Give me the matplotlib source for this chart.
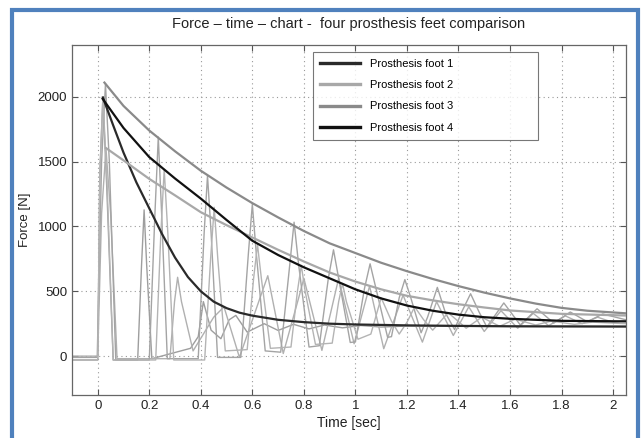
import matplotlib
matplotlib.use("Agg")
import matplotlib.pyplot as plt
from matplotlib.patches import Rectangle

plt.rcParams['font.family'] = ['Liberation Sans', 'DejaVu Sans']

# envelope curves
t_foot1 = [0.02, 0.06, 0.1, 0.15, 0.2, 0.25, 0.3, 0.35, 0.4, 0.45, 0.5, 0.55, 0.6, 0.7, 0.8, 0.9, 1.0,
           1.2, 1.4, 1.6, 1.8, 2.05]
f_foot1 = [1995, 1780, 1570, 1340, 1140, 940, 760, 610, 500, 420, 370, 335, 312, 280, 262, 250, 244,
           237, 233, 230, 229, 228]

t_foot2 = [0.032, 0.1, 0.2, 0.3, 0.4, 0.5, 0.6, 0.7, 0.8, 0.9, 1.0, 1.1, 1.2, 1.3, 1.4, 1.5, 1.6, 1.8, 2.05]
f_foot2 = [1605, 1510, 1367, 1240, 1110, 1010, 915, 820, 730, 645, 575, 515, 465, 430, 400, 375, 352, 326, 313]

t_foot3 = [0.026, 0.1, 0.2, 0.3, 0.4, 0.5, 0.6, 0.7, 0.8, 0.9, 1.0, 1.1, 1.2, 1.3, 1.4, 1.5, 1.6, 1.7, 1.8, 1.9, 2.05]
f_foot3 = [2110, 1930, 1740, 1580, 1430, 1300, 1180, 1070, 965, 870, 795, 720, 655, 595, 540, 490, 445, 405, 372, 350, 330]

t_foot4 = [0.019, 0.1, 0.2, 0.3, 0.4, 0.5, 0.6, 0.7, 0.8, 0.9, 1.0, 1.1, 1.2, 1.3, 1.4, 1.5, 1.6, 1.8, 2.05]
f_foot4 = [1985, 1760, 1535, 1370, 1215, 1050, 890, 780, 685, 600, 515, 445, 390, 350, 320, 300, 288, 272, 268]

t_raw1 = [-0.1, 0.0, 0.008, 0.02, 0.035, 0.06, 0.155, 0.17, 0.18, 0.19, 0.21, 0.36, 0.39, 0.41, 0.44,
          0.478, 0.51, 0.536, 0.58, 0.646, 0.70, 0.76, 0.82, 0.88, 0.95, 1.02, 1.1, 1.2, 1.4, 1.6, 1.8, 2.05]
f_raw1 = [-30, -30, 1400, 1990, 1300, -30, -30, 700, 1128, 700, -20, 60, 150, 420, 200,
          134, 280, 314, 185, 250, 198, 245, 210, 240, 218, 236, 224, 232, 230, 229, 229, 228]

t_raw2 = [-0.1, 0.0, 0.015, 0.032, 0.05, 0.075, 0.28, 0.298, 0.31, 0.325, 0.37, 0.45, 0.49, 0.55, 0.63,
          0.66, 0.72, 0.78, 0.80, 0.87, 0.935, 0.995, 1.055, 1.11, 1.185, 1.26, 1.315, 1.38, 1.44, 1.50,
          1.565, 1.63, 1.69, 1.75, 1.815, 1.88, 1.94, 2.0, 2.05]
f_raw2 = [0, 0, 1100, 1600, 1100, -20, -20, 420, 608, 420, 40, 300, 380, -10, 450,
          620, 20, 450, 600, 44, 600, 95, 540, 57, 470, 108, 420, 159, 380, 190,
          350, 215, 330, 235, 310, 250, 300, 260, 275]

t_raw3 = [-0.1, -0.002, 0.015, 0.03, 0.045, 0.07, 0.2, 0.222, 0.235, 0.248, 0.27, 0.39, 0.413, 0.426,
          0.44, 0.465, 0.555, 0.585, 0.60, 0.615, 0.65, 0.71, 0.745, 0.762, 0.78, 0.82, 0.86, 0.895,
          0.915, 0.935, 0.98, 1.0, 1.035, 1.057, 1.08, 1.125, 1.14, 1.17, 1.192, 1.215, 1.255, 1.28,
          1.318, 1.35, 1.385, 1.41, 1.447, 1.48, 1.51, 1.576, 1.64, 1.705, 1.77, 1.834, 1.90, 1.96, 2.05]
f_raw3 = [-10, -10, 1500, 2100, 1500, -30, -30, 1100, 1690, 1100, -20, -20, 950, 1392,
          950, -10, -10, 800, 1170, 800, 40, 30, 700, 1033, 700, 70, 80, 600,
          820, 600, 105, 110, 520, 712, 520, 145, 150, 450, 590, 450, 180, 300,
          530, 330, 205, 330, 481, 340, 225, 410, 240, 365, 255, 340, 265, 325, 280]

t_raw4 = [-0.1, 0.0, 0.008, 0.02, 0.035, 0.06, 0.225, 0.245, 0.258, 0.272, 0.295, 0.415, 0.438, 0.452,
          0.466, 0.495, 0.58, 0.605, 0.62, 0.635, 0.67, 0.75, 0.775, 0.79, 0.805, 0.845, 0.91, 0.935,
          0.95, 0.965, 1.01, 1.06, 1.10, 1.14, 1.17, 1.2, 1.23, 1.265, 1.30, 1.36, 1.43, 1.49, 1.56,
          1.62, 1.70, 1.76, 1.85, 1.92, 2.05]
f_raw4 = [-30, -30, 1400, 2000, 1400, -30, -30, 950, 1440, 950, -30, -30, 750, 1148,
          750, 40, 50, 600, 860, 600, 60, 70, 500, 700, 500, 90, 100, 420,
          560, 420, 130, 170, 450, 270, 170, 260, 380, 280, 200, 335, 215, 300, 230,
          285, 240, 270, 245, 262, 250]

fig = plt.figure(figsize=(6.42, 4.38), dpi=100)
ax = fig.add_axes([0.1121, 0.0982, 0.8629, 0.7991])

ax.plot(t_raw1, f_raw1, color='#9e9e9e', lw=1.0, zorder=2)
ax.plot(t_raw2, f_raw2, color='#b0b0b0', lw=1.0, zorder=2)
ax.plot(t_raw3, f_raw3, color='#a4a4a4', lw=1.0, zorder=2)
ax.plot(t_raw4, f_raw4, color='#b4b4b4', lw=1.0, zorder=2)

ax.plot(t_foot1, f_foot1, color='#2a2a2a', lw=1.6, label='Prosthesis foot 1', zorder=3)
ax.plot(t_foot2, f_foot2, color='#a8a8a8', lw=1.6, label='Prosthesis foot 2', zorder=3)
ax.plot(t_foot3, f_foot3, color='#8a8a8a', lw=1.6, label='Prosthesis foot 3', zorder=3)
ax.plot(t_foot4, f_foot4, color='#111111', lw=1.6, label='Prosthesis foot 4', zorder=3)

ax.set_xlim(-0.1, 2.05)
ax.set_ylim(-300, 2400)
ax.set_xticks([0, 0.2, 0.4, 0.6, 0.8, 1, 1.2, 1.4, 1.6, 1.8, 2])
ax.set_xticklabels(['0', '0.2', '0.4', '0.6', '0.8', '1', '1.2', '1.4', '1.6', '1.8', '2'])
ax.set_yticks([0, 500, 1000, 1500, 2000])
ax.tick_params(direction='in', top=True, right=True, length=4, width=0.8,
               color='#555555', labelsize=9.5, labelcolor='#222222')
ax.grid(True, linestyle=(0, (1, 3)), color='#999999', lw=0.8)
for s in ax.spines.values():
    s.set_color('#666666')
    s.set_linewidth(0.9)

ax.set_title('Force \u2013 time \u2013 chart -  four prosthesis feet comparison', fontsize=10.5,
             color='#222222', pad=12)
ax.set_xlabel('Time [sec]', fontsize=10, color='#222222', labelpad=3)
ax.set_ylabel('Force [N]', fontsize=9.5, color='#222222', labelpad=5)

leg = ax.legend(loc='upper left', bbox_to_anchor=(0.435, 0.5, 0.406, 0.98 - 0.5), mode='expand',
                borderaxespad=0, fontsize=8, frameon=True, fancybox=False, edgecolor='#555555',
                handlelength=3.6, handletextpad=0.9, borderpad=0.65, labelspacing=1.0)
leg.get_frame().set_linewidth(0.8)
for line in leg.get_lines():
    line.set_linewidth(2.4)

# blue frame around the figure
fig.patches.append(Rectangle((12 / 642, -0.05), 626 / 642, 1 - 10.5 / 438 + 0.05,
                             transform=fig.transFigure, fill=False, edgecolor='#4f81bd',
                             lw=3, zorder=0))

fig.savefig('out.png', dpi=100)
